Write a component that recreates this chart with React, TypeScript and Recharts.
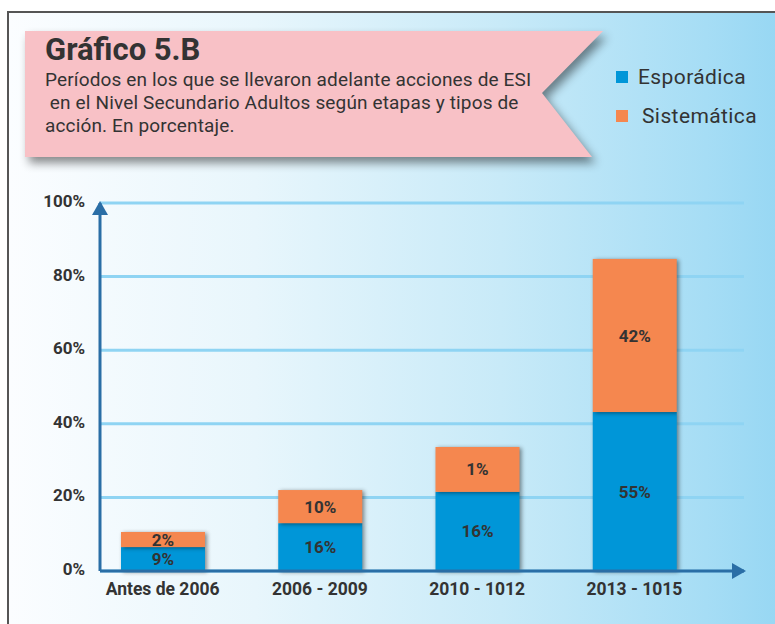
import React from 'react';
import { BarChart, Bar, XAxis, YAxis, CartesianGrid, LabelList, Legend } from 'recharts';

const categories = ['Antes de 2006', '2006 - 2009', '2010 - 1012', '2013 - 1015'];
// bar heights as drawn in the picture (percent of axis)
const esporadica = [6.5, 13.0, 21.5, 43.2];
const sistematica = [4.1, 9.0, 12.2, 41.6];
// labels printed on the bars
const esporadicaLabels = ['9%', '16%', '16%', '55%'];
const sistematicaLabels = ['2%', '10%', '1%', '42%'];
const yTicks = [0, 20, 40, 60, 80, 100];
const seriesNames = ['Esporádica', 'Sistemática'];
const titleText = 'Gráfico 5.B';
const subtitleLines = [
  'Períodos en los que se llevaron adelante acciones de ESI',
  '\u00a0en el Nivel Secundario Adultos según etapas y tipos de',
  'acción. En porcentaje.',
];

const BLUE = '#0096D8';
const ORANGE = '#F5874F';
const AXIS = '#2A6EA6';
const TEXT = '#333333';
const FONT = 'Roboto, "Noto Sans", sans-serif';

const data = categories.map((c, i) => ({
  name: c,
  esporadica: esporadica[i],
  sistematica: sistematica[i],
  eLabel: esporadicaLabels[i],
  sLabel: sistematicaLabels[i],
}));

const ShadowBar = (props: any) => {
  const { x, y, width, height, fill } = props;
  if (!height || height <= 0) return null;
  return (
    <rect
      x={x}
      y={y}
      width={width}
      height={height}
      fill={fill}
      style={{ filter: 'drop-shadow(2px 1px 2px rgba(0,0,0,0.45))' }}
    />
  );
};

const LegendContent = () => (
  <div style={{ fontFamily: FONT, color: TEXT }}>
    {seriesNames.map((n, i) => (
      <div key={n} style={{ display: 'flex', alignItems: 'center', height: 39 }}>
        <div style={{ width: 12, height: 12, background: i === 0 ? BLUE : ORANGE, marginRight: i === 0 ? 10 : 14 }} />
        <span style={{ fontSize: 21, letterSpacing: 0.4 }}>{n}</span>
      </div>
    ))}
  </div>
);

export default function App() {
  return (
    <div style={{ position: 'absolute', left: 0, top: 0, width: 775, height: 624, overflow: 'hidden', background: '#fff' }}>
      <svg width={0} height={0} style={{ position: 'absolute' }}>
        <defs>
          <marker id="arrowHead" viewBox="0 0 14 16" markerWidth={14} markerHeight={16} refX={12} refY={8} orient="auto-start-reverse" markerUnits="userSpaceOnUse">
            <path d="M0,0 L14,8 L0,16 z" fill={AXIS} />
          </marker>
        </defs>
      </svg>
      <div
        style={{
          position: 'absolute',
          left: 7,
          top: 11,
          width: 820,
          height: 700,
          border: '2px solid #555',
          background: 'linear-gradient(to right, #fbfdff 0%, #e8f6fc 30%, #c8eaf8 60%, #a6ddf5 85%, #8dd3f2 100%)',
        }}
      />
      <svg width={775} height={200} style={{ position: 'absolute', left: 0, top: 0 }}>
        <polygon
          points="25,31 603,31 542,93 592,157 25,157"
          fill="#F8C1C6"
          style={{ filter: 'drop-shadow(4px 6px 5px rgba(0,0,0,0.45))' }}
        />
      </svg>
      <div style={{ position: 'absolute', left: 45, top: 32, fontFamily: FONT, color: TEXT, fontWeight: 700, fontSize: 31, lineHeight: '36px' }}>
        {titleText}
      </div>
      <div style={{ position: 'absolute', left: 45, top: 68, fontFamily: FONT, color: TEXT, fontSize: 19, letterSpacing: 0.15, lineHeight: '23px', whiteSpace: 'pre' }}>
        {subtitleLines.map((l) => (
          <div key={l}>{l}</div>
        ))}
      </div>
      <div style={{ position: 'absolute', left: 0, top: 0 }}>
        <BarChart
          width={775}
          height={624}
          data={data}
          margin={{ top: 203, right: 31, bottom: 23, left: 40 }}
          barSize={84}
        >
          <CartesianGrid vertical={false} stroke="#8fd4f3" strokeWidth={3} />
          <XAxis
            dataKey="name"
            height={30}
            axisLine={{ stroke: AXIS, strokeWidth: 3, markerEnd: 'url(#arrowHead)' }}
            tickLine={false}
            tickMargin={6}
            padding={{ left: -16, right: 31 }}
            tick={{ fill: TEXT, fontSize: 17.5, fontWeight: 700, fontFamily: FONT }}
          />
          <YAxis
            width={60}
            domain={[0, 100]}
            ticks={yTicks}
            tickFormatter={(v: number) => `${v}%`}
            axisLine={{ stroke: AXIS, strokeWidth: 3, markerStart: 'url(#arrowHead)' }}
            tickLine={false}
            tickMargin={9}
            tick={{ fill: TEXT, fontSize: 17, fontWeight: 700, fontFamily: FONT, dy: -2 }}
          />
          <Legend
            layout="vertical"
            verticalAlign="middle"
            align="center"
            content={<LegendContent />}
            wrapperStyle={{ position: 'absolute', top: 57, left: 616, width: 160 }}
          />
          <Bar dataKey="esporadica" stackId="a" fill={BLUE} shape={<ShadowBar />} isAnimationActive={false}>
            <LabelList dataKey="eLabel" position="center" fill={TEXT} fontSize={17} fontWeight={700} fontFamily={FONT} />
          </Bar>
          <Bar dataKey="sistematica" stackId="a" fill={ORANGE} shape={<ShadowBar />} isAnimationActive={false}>
            <LabelList dataKey="sLabel" position="center" fill={TEXT} fontSize={17} fontWeight={700} fontFamily={FONT} />
          </Bar>
        </BarChart>
      </div>
    </div>
  );
}
